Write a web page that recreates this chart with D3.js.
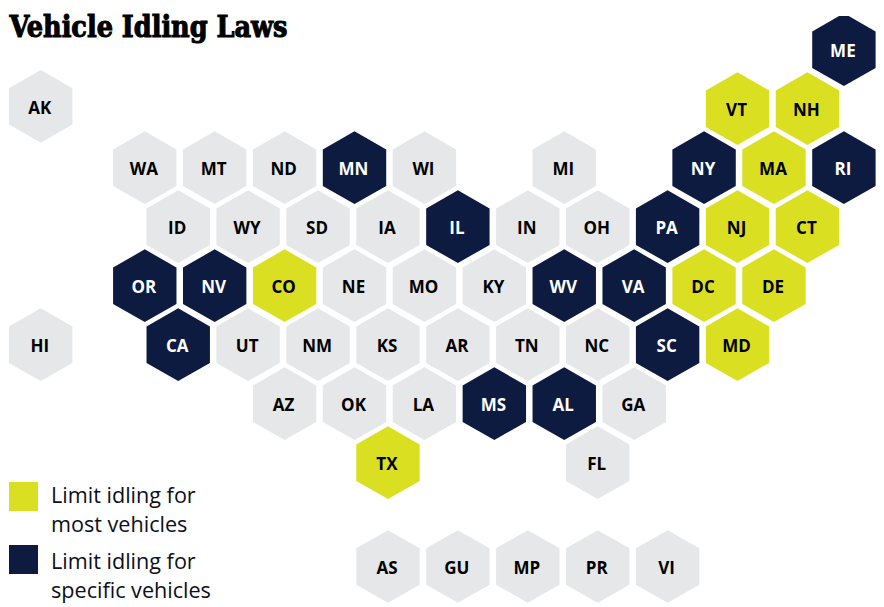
<!DOCTYPE html>
<html><head><meta charset="utf-8">
<script src="https://cdn.jsdelivr.net/npm/d3@7/dist/d3.min.js"></script>
<style>html,body{margin:0;padding:0;background:#fff}svg{display:block}</style>
</head><body><svg id="c" width="884" height="607"></svg>
<script>
const titleText = "Vehicle Idling Laws";
// Tile-grid rows ("" = empty slot)
const row0 = ["","","","","","","","","","","","ME"];
const row1 = ["AK","","","","","","","","","","VT","NH"];
const row2 = ["","WA","MT","ND","MN","WI","","MI","","NY","MA","RI"];
const row3 = ["","","ID","WY","SD","IA","IL","IN","OH","PA","NJ","CT"];
const row4 = ["","OR","NV","CO","NE","MO","KY","WV","VA","DC","DE",""];
const row5 = ["HI","","CA","UT","NM","KS","AR","TN","NC","SC","MD",""];
const row6 = ["","","","AZ","OK","LA","MS","AL","GA","","",""];
const row7 = ["","","","","","TX","","","FL","","",""];
const row8 = ["","","","","","AS","GU","MP","PR","VI","",""];
const gridRows = [row0,row1,row2,row3,row4,row5,row6,row7,row8];
const mostVehicles = ["VT","NH","MA","NJ","CT","DC","DE","MD","CO","TX"];
const specificVehicles = ["ME","NY","RI","PA","VA","WV","IL","MN","NV","OR","CA","SC","MS","AL"];
const legendLabels = [["Limit idling for","most vehicles"],["Limit idling for","specific vehicles"]];

const GRAY="#e6e7e8", LIME="#dae021", NAVY="#0c1b3f";
const svg=d3.select("#c");
const x=d3.scaleLinear().domain([0,23]).range([39.9,843.9]);
const y=d3.scaleLinear().domain([0,7]).range([49.7,462.7]);
const yTerr=566.5, evenShift=-1.5;
const R=36.35, HW=31.7;
const hexPts=[[0,-R],[HW,-R/2],[HW,R/2],[0,R],[-HW,R/2],[-HW,-R/2]].join(" ");
const color=d3.scaleOrdinal().domain(["most","specific","none"]).range([LIME,NAVY,GRAY]);
const status=s=>mostVehicles.includes(s)?"most":specificVehicles.includes(s)?"specific":"none";

const tiles=[];
gridRows.forEach((r,ri)=>r.forEach((s,i)=>{ if(s) tiles.push({s,ri,i}); }));
const tilePos=d=>{
  const even=d.ri%2===1 || d.ri===8;
  let px=x(even?2*d.i:2*d.i+1)+(even?evenShift:0);
  let py=d.ri===8?yTerr:y(d.ri);
  if(d.s==="AK"||d.s==="HI") px=40.7;
  if(d.s==="AK") py=106.4;
  return [px,py];
};
const tile=svg.append("g").selectAll("g").data(tiles).join("g")
 .attr("transform",d=>`translate(${tilePos(d)})`);
tile.append("polygon").attr("points",hexPts).attr("fill",d=>color(status(d.s)));
tile.append("text").text(d=>d.s)
 .attr("text-anchor","middle").attr("x",-1).attr("y",7.4)
 .attr("font-family","'Open Sans'").attr("font-weight",700).attr("font-size",17)
 .attr("fill",d=>status(d.s)==="specific"?"#fff":"#000");

// top edge of the page crop
svg.append("rect").attr("x",780).attr("y",0).attr("width",104).attr("height",16).attr("fill","#fff");

svg.append("text").text(titleText).attr("x",9.5).attr("y",37)
 .attr("font-family","'DejaVu Serif'").attr("font-weight",700).attr("font-size",29.5)
 .style("font-stretch","condensed")
 .attr("textLength",278).attr("lengthAdjust","spacingAndGlyphs")
 .attr("stroke","#000").attr("stroke-width",1).attr("fill","#000");

const legY=d3.scaleLinear().domain([0,1]).range([482,545]);
const legTextY=d3.scaleLinear().domain([0,1]).range([503,569]);
const leg=svg.selectAll("g.leg").data(legendLabels).join("g").attr("class","leg");
leg.append("rect").attr("x",9).attr("y",(d,i)=>legY(i)).attr("width",29).attr("height",29)
 .attr("fill",(d,i)=>[LIME,NAVY][i]);
leg.each(function(d,i){
  d3.select(this).selectAll("text").data(d).join("text").text(t=>t)
   .attr("x",51).attr("y",(t,j)=>legTextY(i)+j*29)
   .attr("font-family","'Open Sans'").attr("font-size",21.6).attr("fill","#0b1020");
});
</script></body></html>
